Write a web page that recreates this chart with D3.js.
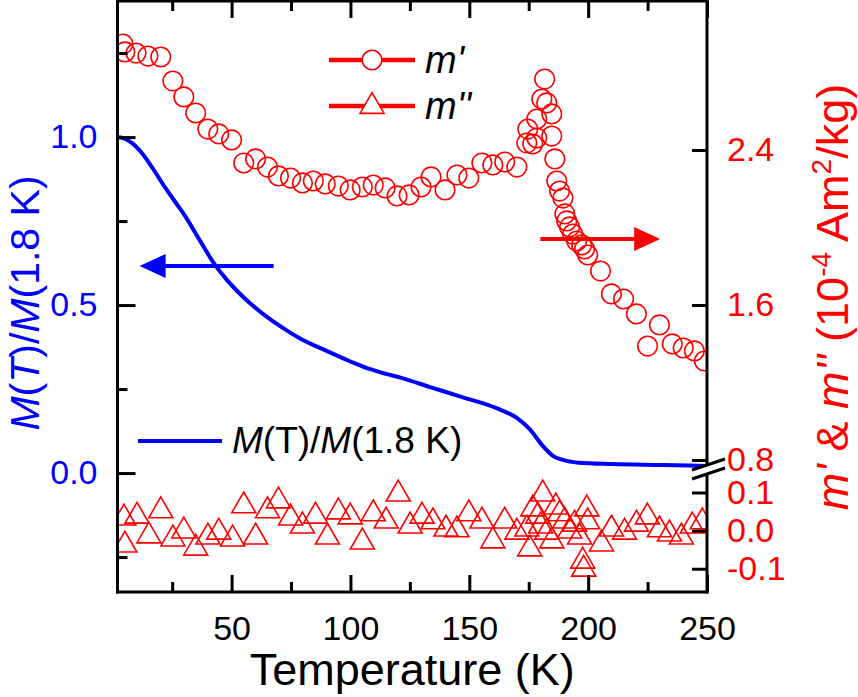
<!DOCTYPE html>
<html><head><meta charset="utf-8">
<script src="https://cdn.jsdelivr.net/npm/d3@7"></script>
<style>
body{margin:0;background:#fff}
svg{display:block}
text{font-family:"Liberation Sans",Arial,Helvetica,sans-serif}
</style>
</head><body>
<svg id="chart" width="858" height="697"></svg>
<script>
// ---------------- data ----------------
const tempM = [2,5,8,12,17,22,27,30,36,42.5,48,54,60,65,72,79,89.5,100,107,115,121,133.5,147,161.5,170,175.5,181,185,189,196,210,231,250];
const magNorm = [1.000,0.995,0.983,0.955,0.905,0.850,0.800,0.770,0.700,0.625,0.575,0.530,0.492,0.464,0.430,0.400,0.365,0.332,0.312,0.295,0.284,0.256,0.226,0.193,0.164,0.130,0.080,0.052,0.040,0.031,0.027,0.024,0.021];

const tempMp = [4.3,5.1,9.8,14.8,20.2,25.3,29.9,34.9,40.0,44.6,50.0,55.1,60.1,65.1,69.7,74.8,79.8,84.4,89.4,94.9,99.9,105.0,109.6,114.6,119.6,124.7,129.7,133.9,139.8,144.8,149.8,155.3,159.9,164.9,170.0,174.2,174.6,176.7,178.4,178.4,180.5,181.7,182.6,184.7,184.7,186.0,186.8,188.0,189.4,190.2,191.0,192.2,193.5,195.2,197.3,198.5,199.8,205.2,209.8,214.9,220.3,225.0,230.0,235.4,240.0,244.7,248.9];
const mPrime = [2.947,2.906,2.900,2.885,2.880,2.756,2.674,2.591,2.508,2.483,2.452,2.333,2.354,2.312,2.266,2.255,2.230,2.240,2.225,2.214,2.194,2.209,2.219,2.204,2.163,2.168,2.209,2.261,2.194,2.271,2.255,2.333,2.323,2.338,2.312,2.436,2.508,2.431,2.560,2.462,2.663,2.766,2.643,2.586,2.472,2.354,2.240,2.188,2.152,2.070,2.034,2.003,1.966,1.930,1.910,1.889,1.858,1.775,1.657,1.631,1.554,1.388,1.497,1.399,1.378,1.363,1.311];

const tempMpp = [4.7,5.1,10.2,15.2,20.2,25.3,29.9,34.9,40.0,44.6,50.4,55.1,60.1,65.1,69.7,74.8,79.8,85.3,90.3,94.9,99.9,105.0,109.6,115.0,120.1,125.1,130.1,134.7,140.2,144.8,149.8,155.3,159.9,164.9,170.0,175.4,174.2,176.7,178.8,180.9,180.0,182.6,184.7,186.4,188.0,190.1,192.2,194.3,196.4,197.7,198.1,199.4,199.8,205.6,209.8,215.3,220.3,224.9,230.0,234.2,239.2,243.8,248.0];
const mDouble = [0.042,-0.029,0.047,-0.005,0.061,-0.013,0.008,-0.037,-0.008,0.005,-0.013,0.074,-0.008,0.061,0.087,0.042,0.021,0.047,-0.008,0.058,0.045,-0.021,0.053,0.034,0.105,0.021,0.047,0.032,0.013,0.011,0.053,0.034,-0.018,0.034,0.005,-0.039,0.013,0.066,0.047,0.105,0.021,0.005,-0.018,0.071,0.053,0.034,0.008,0.026,-0.008,-0.071,-0.092,0.066,0.032,-0.026,0.013,0.005,0.026,0.045,0.011,0.000,-0.008,0.021,0.032];

const xMajorTicks = [50,100,150,200,250];
const xMinorTicks = [25,75,125,175,225];
const leftMajorTicks = [0,0.5,1.0];
const leftMinorTicks = [-0.25,0.25,0.75,1.25];
const rightUpperTicks = [0.8,1.6,2.4];
const rightLowerTicks = [-0.1,0.0,0.1];

// arrows in data coordinates
const blueArrow = {from:67.7, to:11.3, y:0.616};
const redArrow = {from:179.9, to:230.3, y:1.941};

// ---------------- layout ----------------
const svg = d3.select("#chart");
const L = 117.5, R = 707, TOP = 1, BOT = 592;
const RED = "#ff0000", BLUE = "#0000ff";

const x = d3.scaleLinear().domain([2,250]).range([L,R]);
const yL = d3.scaleLinear().domain([-0.354,1.405]).range([BOT,TOP]);
const yRU = d3.scaleLinear().domain([0.8,3.169]).range([460,TOP]);
const yRL = d3.scaleLinear().domain([-0.161,0.138]).range([BOT,478]);

svg.append("rect").attr("width",858).attr("height",697).attr("fill","#fff");

svg.append("clipPath").attr("id","clip").append("rect")
  .attr("x",L).attr("y",TOP).attr("width",R-L).attr("height",BOT-TOP);

const plot = svg.append("g").attr("clip-path","url(#clip)");

// blue curve
const lineGen = d3.line().x(d=>x(d[0])).y(d=>yL(d[1])).curve(d3.curveMonotoneX);
plot.append("path").datum(tempM.map((t,i)=>[t,magNorm[i]]))
  .attr("d",lineGen).attr("fill","none").attr("stroke",BLUE).attr("stroke-width",4);

// m' circles
plot.append("g").selectAll("circle").data(tempMp.map((t,i)=>[t,mPrime[i]])).join("circle")
  .attr("cx",d=>x(d[0])).attr("cy",d=>yRU(d[1])).attr("r",9.8)
  .attr("fill","none").attr("stroke",RED).attr("stroke-width",1.6);

// m'' triangles
const triPath = "M0,-10.4L12,10.4L-12,10.4Z";
plot.append("g").selectAll("path").data(tempMpp.map((t,i)=>[t,mDouble[i]])).join("path")
  .attr("transform",d=>`translate(${x(d[0])},${yRL(d[1])})`).attr("d",triPath)
  .attr("fill","none").attr("stroke",RED).attr("stroke-width",1.6);

// arrows
function arrow(x1,x2,y,color){
  const dir = Math.sign(x2-x1);
  const headLen = 26, half = 12;
  svg.append("line").attr("x1",x1).attr("x2",x2-dir*headLen+dir*2).attr("y1",y).attr("y2",y)
    .attr("stroke",color).attr("stroke-width",4);
  svg.append("path").attr("d",`M${x2},${y}L${x2-dir*headLen},${y-half}L${x2-dir*headLen},${y+half}Z`).attr("fill",color);
}
arrow(x(blueArrow.from),x(blueArrow.to),yL(blueArrow.y),BLUE);
arrow(x(redArrow.from),x(redArrow.to),yRU(redArrow.y),RED);

// ---------------- axes ----------------
const fontTick = 34;
function styleAxis(g,color){
  g.select(".domain").remove();
  g.selectAll(".tick line").attr("stroke","#000").attr("stroke-width",3);
  g.selectAll(".tick text").attr("fill",color).attr("font-size",fontTick);
}
// bottom
svg.append("g").attr("transform",`translate(0,${BOT})`)
  .call(d3.axisBottom(x).tickValues(xMajorTicks).tickSize(-17).tickPadding(24).tickFormat(d3.format("d")))
  .call(g=>styleAxis(g,"#000"));
svg.append("g").attr("transform",`translate(0,${BOT})`)
  .call(d3.axisBottom(x).tickValues(xMinorTicks).tickSize(-10).tickFormat(""))
  .call(g=>styleAxis(g,"#000"));
// top
svg.append("g").attr("transform",`translate(0,${TOP})`)
  .call(d3.axisTop(x).tickValues(xMajorTicks).tickSize(-17).tickFormat(""))
  .call(g=>styleAxis(g,"#000"));
svg.append("g").attr("transform",`translate(0,${TOP})`)
  .call(d3.axisTop(x).tickValues(xMinorTicks).tickSize(-10).tickFormat(""))
  .call(g=>styleAxis(g,"#000"));
// left
svg.append("g").attr("transform",`translate(${L},0)`)
  .call(d3.axisLeft(yL).tickValues(leftMajorTicks).tickSize(-18).tickPadding(20).tickFormat(d=>d.toFixed(1)))
  .call(g=>styleAxis(g,BLUE));
svg.append("g").attr("transform",`translate(${L},0)`)
  .call(d3.axisLeft(yL).tickValues(leftMinorTicks).tickSize(-10).tickFormat(""))
  .call(g=>styleAxis(g,BLUE));
// right (broken)
svg.append("g").attr("transform",`translate(${R},0)`)
  .call(d3.axisRight(yRU).tickValues(rightUpperTicks).tickSize(-15).tickPadding(20).tickFormat(d=>d.toFixed(1)))
  .call(g=>styleAxis(g,RED));
svg.append("g").attr("transform",`translate(${R},0)`)
  .call(d3.axisRight(yRL).tickValues(rightLowerTicks).tickSize(-15).tickPadding(20).tickFormat(d=>d.toFixed(1)))
  .call(g=>styleAxis(g,RED));

// frame
const frame = svg.append("g").attr("stroke","#000").attr("stroke-width",3).attr("stroke-linecap","square");
frame.append("line").attr("x1",L).attr("x2",L).attr("y1",TOP).attr("y2",BOT);
frame.append("line").attr("x1",L).attr("x2",R).attr("y1",TOP).attr("y2",TOP);
frame.append("line").attr("x1",L).attr("x2",R).attr("y1",BOT).attr("y2",BOT);
frame.append("line").attr("x1",R).attr("x2",R).attr("y1",TOP).attr("y2",BOT);
// axis break
const bY = (yRU(0.8)+yRL(0.138))/2;
svg.append("path").attr("d",`M${R-15},${bY+1}L${R+18},${bY-10}L${R+18},${bY-1}L${R-15},${bY+10}Z`).attr("fill","#fff");
svg.append("line").attr("x1",R-15).attr("y1",bY+1).attr("x2",R+18).attr("y2",bY-10).attr("stroke","#000").attr("stroke-width",3);
svg.append("line").attr("x1",R-15).attr("y1",bY+10).attr("x2",R+18).attr("y2",bY-1).attr("stroke","#000").attr("stroke-width",3);

// ---------------- titles ----------------
svg.append("text").attr("x",(L+R)/2).attr("y",685).attr("text-anchor","middle")
  .attr("font-size",45).attr("fill","#000").text("Temperature (K)");

const lt = svg.append("text").attr("transform","translate(39,303) rotate(-90)")
  .attr("text-anchor","middle").attr("font-size",41).attr("fill",BLUE);
lt.append("tspan").attr("font-style","italic").text("M");
lt.append("tspan").text("(");
lt.append("tspan").attr("font-style","italic").text("T");
lt.append("tspan").text(")/");
lt.append("tspan").attr("font-style","italic").text("M");
lt.append("tspan").text("(1.8 K)");

const rt = svg.append("text").attr("transform","translate(848,297) rotate(-90)")
  .attr("text-anchor","middle").attr("font-size",45).attr("fill",RED);
rt.append("tspan").attr("font-style","italic").text("m'");
rt.append("tspan").text(" & ");
rt.append("tspan").attr("font-style","italic").text("m''");
rt.append("tspan").text(" (10");
rt.append("tspan").attr("font-size",28).attr("dy",-17).text("-4");
rt.append("tspan").attr("dy",17).text(" Am");
rt.append("tspan").attr("font-size",28).attr("dy",-17).text("2");
rt.append("tspan").attr("dy",17).text("/kg)");

// ---------------- legends ----------------
const leg = svg.append("g");
[[60,"circle","m'"],[106,"tri","m''"]].forEach(([ly,sym,label])=>{
  leg.append("line").attr("x1",329).attr("x2",415).attr("y1",ly).attr("y2",ly)
    .attr("stroke",RED).attr("stroke-width",4.5);
  if(sym==="circle"){
    leg.append("circle").attr("cx",372).attr("cy",ly).attr("r",9.8)
      .attr("fill","#fff").attr("stroke",RED).attr("stroke-width",1.6);
  } else {
    leg.append("path").attr("transform",`translate(372,${ly-3})`).attr("d",triPath)
      .attr("fill","#fff").attr("stroke",RED).attr("stroke-width",1.6);
  }
  leg.append("text").attr("x",425).attr("y",ly+13).attr("font-size",38)
    .attr("font-style","italic").attr("fill","#000").text(label);
});

leg.append("line").attr("x1",138).attr("x2",222).attr("y1",441).attr("y2",441)
  .attr("stroke",BLUE).attr("stroke-width",4);
const bl = leg.append("text").attr("x",232).attr("y",453).attr("font-size",37).attr("fill","#000");
bl.append("tspan").attr("font-style","italic").text("M");
bl.append("tspan").text("(T)/");
bl.append("tspan").attr("font-style","italic").text("M");
bl.append("tspan").text("(1.8 K)");
</script>
</body></html>
